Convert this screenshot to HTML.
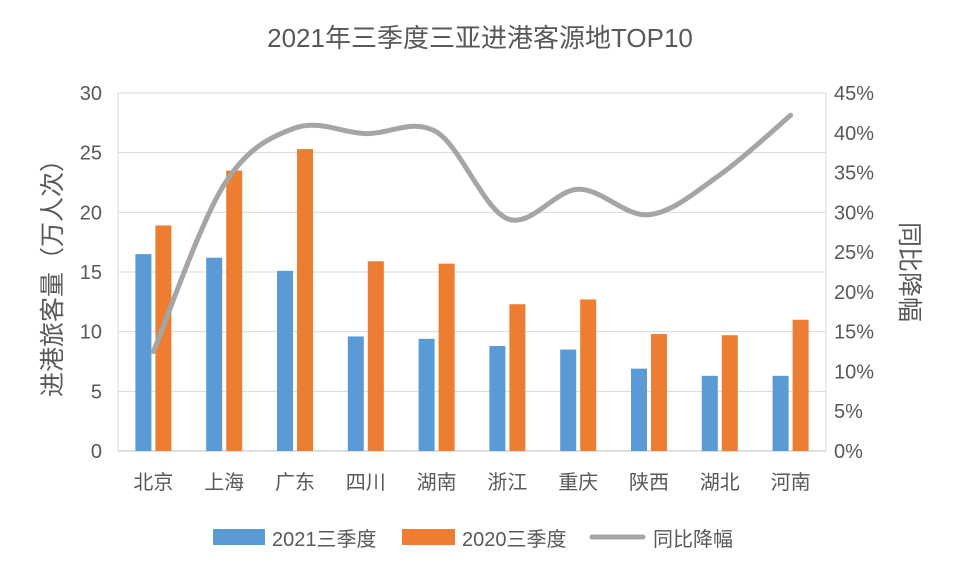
<!DOCTYPE html>
<html><head><meta charset="utf-8"><style>
body{margin:0;background:#fff}
svg{display:block;font-family:"Liberation Sans","Noto Sans CJK SC",sans-serif}
</style></head><body>
<svg id="c" width="960" height="576" xmlns="http://www.w3.org/2000/svg"></svg>
<script>
const s=document.getElementById('c');
let h='';
const L=118,R=826,T=93,B=451,H=B-T;
const cats=['北京','上海','广东','四川','湖南','浙江','重庆','陕西','湖北','河南'];
const a=[16.5,16.2,15.1,9.6,9.4,8.8,8.5,6.9,6.3,6.3];
const b=[18.9,23.5,25.3,15.9,15.7,12.3,12.7,9.8,9.7,11.0];
const p=[12.5,33.5,40.6,39.9,40.1,29.2,32.9,29.7,34.7,42.2];
const yv=v=>B-v/30*H, yp=v=>B-v/45*H;
for(let i=0;i<=6;i++){const y=B-i*H/6;
h+=`<line x1="${L}" x2="${R}" y1="${y}" y2="${y}" stroke="#d9d9d9" stroke-width="1"/>`;
h+=`<text x="102" y="${y+7}" text-anchor="end" font-size="20" fill="#595959">${i*5}</text>`;}
for(let i=0;i<=9;i++){const y=B-i*H/9;h+=`<text x="834" y="${y+7}" font-size="20" fill="#595959">${i*5}%</text>`;}
h+=`<line x1="${L}" x2="${L}" y1="${T}" y2="${B}" stroke="#d9d9d9"/>`;
h+=`<line x1="${R}" x2="${R}" y1="${T}" y2="${B}" stroke="#d9d9d9"/>`;
h+=`<line x1="${L}" x2="${R}" y1="${B}" y2="${B}" stroke="#bfbfbf"/>`;
const w=(R-L)/10,pts=[];
cats.forEach((c,i)=>{const cx=L+w*i+w/2;
h+=`<rect x="${cx-18}" y="${yv(a[i])}" width="16" height="${B-yv(a[i])}" fill="#5b9bd5"/>`;
h+=`<rect x="${cx+2}" y="${yv(b[i])}" width="16" height="${B-yv(b[i])}" fill="#ed7d31"/>`;
h+=`<text x="${cx}" y="489" text-anchor="middle" font-size="20" fill="#595959">${c}</text>`;
pts.push([cx,yp(p[i])]);});
let d=`M${pts[0][0]},${pts[0][1]}`;
for(let i=0;i<pts.length-1;i++){const p0=pts[i-1]||pts[i],p1=pts[i],p2=pts[i+1],p3=pts[i+2]||p2;
d+=` C${p1[0]+(p2[0]-p0[0])/6},${p1[1]+(p2[1]-p0[1])/6} ${p2[0]-(p3[0]-p1[0])/6},${p2[1]-(p3[1]-p1[1])/6} ${p2[0]},${p2[1]}`;}
h+=`<path d="${d}" fill="none" stroke="#a5a5a5" stroke-width="5" stroke-linecap="round"/>`;
h+=`<text x="480" y="47" text-anchor="middle" font-size="26" fill="#595959">2021年三季度三亚进港客源地TOP10</text>`;
h+=`<text transform="translate(61,272) rotate(-90)" text-anchor="middle" font-size="25" fill="#595959">进港旅客量（万人次）</text>`;
h+=`<text transform="translate(901,272) rotate(90)" text-anchor="middle" font-size="25" fill="#595959">同比降幅</text>`;
h+=`<rect x="213" y="529" width="52" height="16" fill="#5b9bd5"/><text x="272" y="546" font-size="20" fill="#595959">2021三季度</text>`;
h+=`<rect x="402" y="529" width="53" height="16" fill="#ed7d31"/><text x="462" y="546" font-size="20" fill="#595959">2020三季度</text>`;
h+=`<line x1="592" x2="643" y1="537" y2="537" stroke="#a5a5a5" stroke-width="5" stroke-linecap="round"/><text x="653" y="546" font-size="20" fill="#595959">同比降幅</text>`;
s.innerHTML=h;
</script>
</body></html>
